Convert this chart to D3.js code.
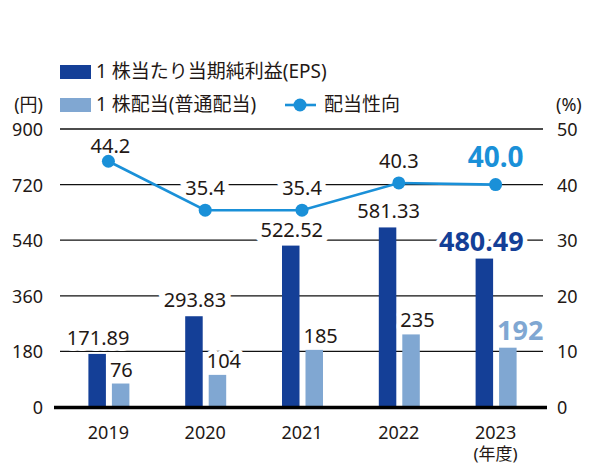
<!DOCTYPE html>
<html><head><meta charset="utf-8">
<script src="https://cdn.jsdelivr.net/npm/d3@7"></script>
<style>
html,body{margin:0;padding:0;background:#fff;}
text{font-family:"Noto Sans","Noto Sans CJK JP",sans-serif;fill:#231815;}
</style></head>
<body><svg id="c" width="592" height="465"></svg>
<script>
const years = ["2019","2020","2021","2022","2023"];
const eps = [171.89, 293.83, 522.52, 581.33, 480.49];
const dividend = [76, 104, 185, 235, 192];
const payout = [44.2, 35.4, 35.4, 40.3, 40.0];
const payoutLabels = ["44.2","35.4","35.4","40.3","40.0"];
const epsLabels = ["171.89","293.83","522.52","581.33","480.49"];
const leftTicks = [0,180,360,540,720,900];
const rightTicks = [0,10,20,30,40,50];
const legendNames = ["1 株当たり当期純利益(EPS)","1 株配当(普通配当)","配当性向"];

const C_DARK = "#143f97", C_LIGHT = "#80a7d2", C_LINE = "#1a90d8";
const svg = d3.select("#c");
const L = 60, R = 544, TOP = 129, BOT = 407;
const x = d3.scaleBand().domain(years).range([L, R]).padding(0);
const sub = d3.scaleBand().domain(["eps","div"]).range([-20, 21]).paddingInner(0.255);
const yL = d3.scaleLinear().domain([0, 900]).range([BOT, TOP]);
const yR = d3.scaleLinear().domain([0, 50]).range([BOT, TOP]);
const cx = d => x(d) + x.bandwidth()/2;

// grid lines
svg.append("g").selectAll("line").data(leftTicks.filter(t => t > 0)).join("line")
  .attr("x1", L).attr("x2", 543).attr("y1", d => yL(d)).attr("y2", d => yL(d))
  .attr("stroke", "#111").attr("stroke-width", 1.3);

// left axis
const axL = d3.axisLeft(yL).tickValues(leftTicks).tickSize(0).tickPadding(0);
const gL = svg.append("g").attr("transform", `translate(43,0)`).call(axL);
gL.select(".domain").remove();
gL.selectAll("text").attr("font-size", 18).attr("fill", "#231815").attr("font-family", null).attr("dy", "0.36em");
// right axis
const axR = d3.axisRight(yR).tickValues(rightTicks).tickSize(0).tickPadding(0);
const gR = svg.append("g").attr("transform", `translate(557,0)`).call(axR);
gR.select(".domain").remove();
gR.selectAll("text").attr("font-size", 18).attr("fill", "#231815").attr("font-family", null).attr("dy", "0.36em");

svg.append("text").attr("x", 43).attr("y", 111).attr("text-anchor", "end").attr("font-size", 18).text("(円)");
svg.append("text").attr("x", 556).attr("y", 111).attr("text-anchor", "start").attr("font-size", 18).text("(%)");

const halo = (sel, w) => sel.attr("stroke", "#fff").attr("stroke-width", w).attr("paint-order", "stroke").attr("stroke-linejoin", "round");

// bars
svg.append("g").selectAll("rect").data(years).join("rect")
  .attr("x", (d) => cx(d) + sub("eps")).attr("width", sub.bandwidth())
  .attr("y", (d,i) => yL(eps[i])).attr("height", (d,i) => BOT - yL(eps[i]))
  .attr("fill", C_DARK);
svg.append("g").selectAll("rect").data(years).join("rect")
  .attr("x", (d) => cx(d) + sub("div")).attr("width", sub.bandwidth())
  .attr("y", (d,i) => yL(dividend[i])).attr("height", (d,i) => BOT - yL(dividend[i]))
  .attr("fill", C_LIGHT);

// baseline
svg.append("line").attr("x1", 54).attr("x2", 547).attr("y1", BOT + 0.5).attr("y2", BOT + 0.5)
  .attr("stroke", "#000").attr("stroke-width", 3.5);

// EPS labels
svg.append("g").selectAll("text").data(years).join("text")
  .attr("x", (d,i) => cx(d) + sub("eps") + sub.bandwidth()/2 + (i === 4 ? -3 : 1))
  .attr("y", (d,i) => yL(eps[i]) - (i === 4 ? 8 : 9))
  .attr("text-anchor", "middle")
  .attr("font-size", (d,i) => i === 4 ? 27 : 20)
  .attr("font-weight", (d,i) => i === 4 ? 700 : 400)
  .style("fill", (d,i) => i === 4 ? C_DARK : "#231815")
  .each(function(d,i){ halo(d3.select(this), i === 4 ? 9 : 12); })
  .text((d,i) => epsLabels[i]);

// dividend labels
svg.append("g").selectAll("text").data(years).join("text")
  .attr("x", (d,i) => cx(d) + sub("div") - 2)
  .attr("y", (d,i) => yL(dividend[i]) - (i === 4 ? 8 : 7))
  .attr("text-anchor", "start")
  .attr("font-size", (d,i) => i === 4 ? 27 : 20)
  .attr("font-weight", (d,i) => i === 4 ? 700 : 400)
  .style("fill", (d,i) => i === 4 ? C_LIGHT : "#231815")
  .each(function(d,i){ halo(d3.select(this), 9); })
  .text(d => dividend[years.indexOf(d)]);

// payout labels
const payDy = [-8, -15, -15, -15, -18];
svg.append("g").selectAll("text").data(years).join("text")
  .attr("x", (d,i) => cx(d) + (i === 0 ? 2 : 0))
  .attr("y", (d,i) => yR(payout[i]) + payDy[i])
  .attr("text-anchor", "middle")
  .attr("font-size", (d,i) => i === 4 ? 28 : 20)
  .attr("font-weight", (d,i) => i === 4 ? 700 : 400)
  .style("fill", (d,i) => i === 4 ? C_LINE : "#231815")
  .each(function(d,i){ halo(d3.select(this), 12); })
  .text((d,i) => payoutLabels[i]);

// payout line
const line = d3.line().x((d,i) => cx(years[i])).y(d => yR(d));
svg.append("path").datum(payout).attr("d", line).attr("fill", "none")
  .attr("stroke", C_LINE).attr("stroke-width", 2.6);
svg.append("g").selectAll("circle").data(payout).join("circle")
  .attr("cx", (d,i) => cx(years[i])).attr("cy", d => yR(d)).attr("r", 6.5).attr("fill", C_LINE);

// x labels
svg.append("g").selectAll("text").data(years).join("text")
  .attr("x", d => cx(d)).attr("y", 439).attr("text-anchor", "middle")
  .attr("font-size", 18).text(d => d);
svg.append("text").attr("x", cx("2023")).attr("y", 460).attr("text-anchor", "middle")
  .attr("font-size", 17).text("(年度)");

// legend
const lg = svg.append("g");
lg.append("rect").attr("x", 60).attr("y", 65).attr("width", 31).attr("height", 14).attr("fill", C_DARK);
lg.append("text").attr("x", 96).attr("y", 78).attr("font-size", 19).text(legendNames[0]);
lg.append("rect").attr("x", 60).attr("y", 98).attr("width", 31).attr("height", 14).attr("fill", C_LIGHT);
lg.append("text").attr("x", 96).attr("y", 111).attr("font-size", 19).text(legendNames[1]);
lg.append("line").attr("x1", 285).attr("x2", 316).attr("y1", 105).attr("y2", 105).attr("stroke", C_LINE).attr("stroke-width", 2.6);
lg.append("circle").attr("cx", 300).attr("cy", 105).attr("r", 6.5).attr("fill", C_LINE);
lg.append("text").attr("x", 324).attr("y", 111).attr("font-size", 19).text(legendNames[2]);
</script></body></html>
